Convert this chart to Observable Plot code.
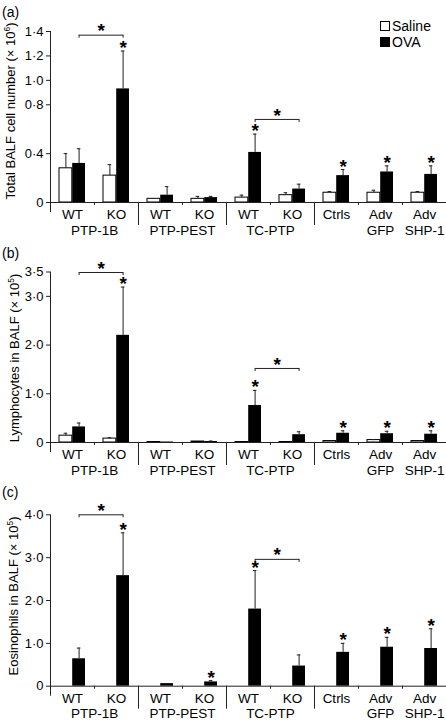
<!DOCTYPE html>
<html><head><meta charset="utf-8">
<script src="https://cdn.jsdelivr.net/npm/d3@7"></script>
<script src="https://cdn.jsdelivr.net/npm/@observablehq/plot@0.6"></script>
<style>
body{margin:0;background:#fff;font-family:"Liberation Sans",Arial,Helvetica,sans-serif;color:#000;}
#wrap{position:relative;width:446px;height:720px;overflow:hidden;}
.panel{position:absolute;left:0;width:446px;height:240px;}
.plabel{position:absolute;left:2px;font-size:14px;line-height:14px;}
.sw{position:absolute;left:380px;width:10px;height:10px;box-sizing:border-box;border:1px solid #000;}
.lt{position:absolute;left:392px;font-size:14px;line-height:14px;}
.ytitle{position:absolute;font-size:13px;line-height:13px;white-space:nowrap;transform:translate(-50%,-50%) rotate(-90deg);}
.ytitle sup{font-size:8.5px;line-height:0;vertical-align:5px;}
</style></head><body>
<div id="wrap">
  <div class="plabel" style="top:5px">(a)</div>
  <div class="plabel" style="top:246px">(b)</div>
  <div class="plabel" style="top:485px">(c)</div>
  <div class="sw" style="top:21px;background:#fff"></div><div class="lt" style="top:19px">Saline</div>
  <div class="sw" style="top:37px;background:#000"></div><div class="lt" style="top:35px">OVA</div>
</div>
<script>
// ---- categories & tick labels ----
const groups = ["PTP-1B WT","PTP-1B KO","PTP-PEST WT","PTP-PEST KO","TC-PTP WT","TC-PTP KO","Ctrls","Adv GFP","Adv SHP-1"];
const labelLine1 = ["WT","KO","WT","KO","WT","KO","Ctrls","Adv","Adv"];
const labelLine2 = ["","","","","","","","GFP","SHP-1"];
const families = ["PTP-1B","PTP-PEST","TC-PTP"];
const familyFirst = ["PTP-1B WT","PTP-PEST WT","TC-PTP WT"];
const longDividers = ["PTP-PEST WT","TC-PTP WT","Ctrls"];
const shortDividers = ["PTP-1B KO","PTP-PEST KO","TC-PTP KO","Adv GFP","Adv SHP-1"];
const bracketFrom = ["PTP-1B WT","TC-PTP WT"];
const bracketTo = ["PTP-1B KO","TC-PTP KO"];

// ---- panel (a): total BALF cells (x10^6) ----
const titleA     = ["Total BALF cell number (\u00D7 10", "6", ")"];
const salineA    = [0.28, 0.22, 0.03, 0.03, 0.04, 0.06, 0.08, 0.08, 0.08];
const salineErrA = [0.12, 0.09, 0.00, 0.02, 0.02, 0.02, 0.01, 0.02, 0.01];
const ovaA       = [0.32, 0.93, 0.06, 0.04, 0.41, 0.11, 0.22, 0.25, 0.23];
const ovaErrA    = [0.12, 0.31, 0.07, 0.01, 0.15, 0.04, 0.05, 0.05, 0.07];
const starsA     = [0, 1, 0, 0, 1, 0, 1, 1, 1];
const bracketYA  = [1.37, 0.68];
const ticksA     = [0, 0.4, 0.8, 1.0, 1.2, 1.4];

// ---- panel (b): lymphocytes (x10^5) ----
const titleB     = ["Lymphocytes in BALF (\u00D7 10", "5", ")"];
const salineB    = [0.14, 0.08, 0.01, 0.02, 0.01, 0.01, 0.03, 0.05, 0.03];
const salineErrB = [0.05, 0.02, 0.00, 0.00, 0.00, 0.00, 0.00, 0.01, 0.00];
const ovaB       = [0.32, 2.20, 0.01, 0.02, 0.76, 0.16, 0.19, 0.18, 0.17];
const ovaErrB    = [0.08, 0.99, 0.00, 0.01, 0.31, 0.06, 0.05, 0.05, 0.07];
const starsB     = [0, 1, 0, 0, 1, 0, 1, 1, 1];
const bracketYB  = [3.49, 1.52];
const ticksB     = [0, 1.0, 2.0, 3.0, 3.5];

// ---- panel (c): eosinophils (x10^5) ----
const titleC     = ["Eosinophils in BALF (\u00D7 10", "5", ")"];
const salineC    = [0, 0, 0, 0, 0, 0, 0, 0, 0];
const salineErrC = [0, 0, 0, 0, 0, 0, 0, 0, 0];
const ovaC       = [0.64, 2.58, 0.06, 0.10, 1.80, 0.47, 0.79, 0.91, 0.88];
const ovaErrC    = [0.25, 1.00, 0.00, 0.03, 0.90, 0.26, 0.21, 0.23, 0.46];
const starsC     = [0, 1, 0, 1, 1, 0, 1, 1, 1];
const bracketYC  = [4.0, 2.96];
const ticksC     = [0, 1.0, 2.0, 3.0, 4.0];

const FONT = '"Liberation Sans", Arial, Helvetica, sans-serif';
const W = 446, ML = 50, H = 240;
const step = (W - ML) / groups.length;
const PI = 0.4;
const bw = step * (1 - PI);
const LINE = "#222";
const LABEL_SIZE = 13.5;
const fmt = d => d === 0 ? "0" : d.toFixed(1).replace(".", "\u00B7");
const hasAxisMarks = typeof Plot.axisY === "function";

function makePanel(o) {
  const rows = groups.map((g, i) => ({g, s: o.saline[i], se: o.salineErr[i], v: o.ova[i], ve: o.ovaErr[i], star: o.stars[i]}));
  const labels = groups.map((g, i) => ({g, l1: labelLine1[i], l2: labelLine2[i]}));
  const fams = families.map((f, i) => ({f, g: familyFirst[i]}));
  const brackets = bracketFrom.map((f, i) => ({from: f, to: bracketTo[i], y: o.bracketY[i]}));
  const bracketEnds = brackets.flatMap(b => [{g: b.from, y: b.y}, {g: b.to, y: b.y}]);
  const sErr = rows.filter(d => d.se > 0), vErr = rows.filter(d => d.ve > 0);
  const yAxisOpts = {ticks: o.ticks, tickSize: 4, tickPadding: 3, tickFormat: fmt, label: null};
  return Plot.plot({
    width: W, height: H,
    marginLeft: ML, marginRight: 0, marginTop: o.mt, marginBottom: o.mb,
    style: {fontFamily: FONT, fontSize: "13px", color: "#000", background: "transparent", overflow: "visible"},
    x: {domain: groups, paddingInner: PI, paddingOuter: PI / 2, axis: null},
    y: hasAxisMarks ? {domain: [0, o.yMax]} : {domain: [0, o.yMax], ...yAxisOpts},
    marks: [
      hasAxisMarks ? Plot.axisY({...yAxisOpts, fontSize: 13, stroke: LINE}) : null,
      Plot.barY(rows, {x: "g", y: "s", insetRight: bw / 2, fill: "white", stroke: "#000", strokeWidth: 1}),
      Plot.barY(rows, {x: "g", y: "v", insetLeft: bw / 2, fill: "#000"}),
      Plot.ruleX(sErr, {x: "g", y1: "s", y2: d => d.s + d.se, dx: -bw / 4, stroke: LINE}),
      Plot.tickY(sErr, {x: "g", y: d => d.s + d.se, insetLeft: bw / 4 - 2, insetRight: 3 * bw / 4 - 2, stroke: LINE}),
      Plot.ruleX(vErr, {x: "g", y1: "v", y2: d => d.v + d.ve, dx: bw / 4, stroke: LINE}),
      Plot.tickY(vErr, {x: "g", y: d => d.v + d.ve, insetLeft: 3 * bw / 4 - 2, insetRight: bw / 4 - 2, stroke: LINE}),
      Plot.text(rows.filter(d => d.star), {x: "g", y: d => d.v + d.ve, text: () => "*", dx: bw / 4, dy: -3, lineAnchor: "middle", fontSize: 19, fontWeight: "bold"}),
      Plot.link(brackets, {x1: "from", x2: "to", y1: "y", y2: "y", dx: bw / 4, stroke: LINE}),
      Plot.ruleX(bracketEnds, {x: "g", y1: "y", y2: "y", dx: bw / 4, insetBottom: -3, stroke: LINE}),
      Plot.text(brackets, {x: "from", y: "y", text: () => "*", dx: step / 2 + bw / 4, dy: -4, lineAnchor: "middle", fontSize: 19, fontWeight: "bold"}),
      // axis lines
      Plot.ruleY([0], {stroke: LINE}),
      Plot.ruleX([groups[0]], {x: d => d, dx: -step / 2, insetBottom: -10, stroke: LINE}),
      Plot.ruleX(longDividers, {x: d => d, y1: () => 0, y2: () => 0, dx: -step / 2, insetBottom: -23, stroke: LINE}),
      Plot.ruleX(shortDividers, {x: d => d, y1: () => 0, y2: () => 0, dx: -step / 2, insetBottom: -3, stroke: LINE}),
      // category labels
      Plot.text(labels, {x: "g", text: "l1", frameAnchor: "bottom", lineAnchor: "top", dy: 7, fontSize: LABEL_SIZE}),
      Plot.text(labels.filter(d => d.l2), {x: "g", text: "l2", frameAnchor: "bottom", lineAnchor: "top", dy: 22.5, fontSize: LABEL_SIZE}),
      Plot.text(fams, {x: "g", text: "f", dx: step / 2, frameAnchor: "bottom", lineAnchor: "top", dy: 22.5, fontSize: LABEL_SIZE})
    ]
  });
}

const wrap = document.getElementById("wrap");
const panels = [
  {top: 0, mt: 31, mb: 38, yMax: 1.4, ticks: ticksA, saline: salineA, salineErr: salineErrA, ova: ovaA, ovaErr: ovaErrA, stars: starsA, bracketY: bracketYA, title: titleA, tx: 9.5, ty: 111},
  {top: 240, mt: 31.5, mb: 38, yMax: 3.5, ticks: ticksB, saline: salineB, salineErr: salineErrB, ova: ovaB, ovaErr: ovaErrB, stars: starsB, bracketY: bracketYB, title: titleB, tx: 13.5, ty: 358},
  {top: 480, mt: 34.3, mb: 34.3, yMax: 4.0, ticks: ticksC, saline: salineC, salineErr: salineErrC, ova: ovaC, ovaErr: ovaErrC, stars: starsC, bracketY: bracketYC, title: titleC, tx: 13, ty: 595.5}
];
for (const p of panels) {
  const div = document.createElement("div");
  div.className = "panel";
  div.style.top = p.top + "px";
  div.appendChild(makePanel(p));
  wrap.insertBefore(div, wrap.firstChild);
  const t = document.createElement("div");
  t.className = "ytitle";
  t.style.left = p.tx + "px";
  t.style.top = p.ty + "px";
  t.append(p.title[0]);
  const sup = document.createElement("sup");
  sup.textContent = p.title[1];
  t.append(sup, p.title[2]);
  wrap.appendChild(t);
}
</script>
</body></html>
